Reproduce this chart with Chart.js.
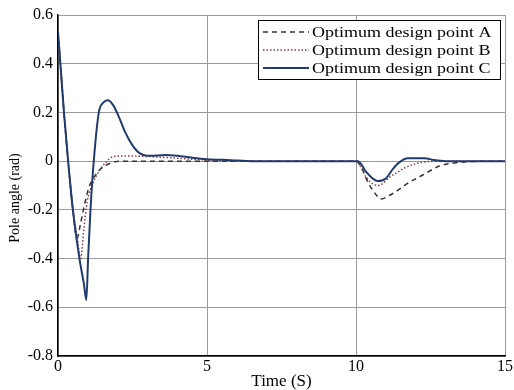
<!DOCTYPE html>
<html>
<head>
<meta charset="utf-8">
<script src="https://cdn.jsdelivr.net/npm/chart.js@4"></script>
<style>
    body { margin: 0; background: #fff; }
    canvas { display: block; }
</style>
</head>
<body>
<canvas id="poleChart" width="514" height="390"></canvas>
<script>
// Values
const seriesLabels = ['Optimum design point A', 'Optimum design point B', 'Optimum design point C'];

const timeA = [0, 0.08, 0.2, 0.34, 0.5, 0.64, 0.75, 0.87, 1.03, 1.26, 1.39, 1.56, 1.9, 2.3, 9.85, 10, 10.2, 10.34, 10.56, 10.85, 11.12, 11.4, 11.68, 12.24, 12.8, 13.4, 14, 15];
const poleA = [0.53, 0.40, 0.20, 0, -0.20, -0.317, -0.26, -0.19, -0.11, -0.056, -0.036, -0.02, -0.003, 0, 0, 0, -0.03, -0.071, -0.119, -0.155, -0.141, -0.12, -0.095, -0.057, -0.02, -0.006, -0.001, 0];

const timeB = [0, 0.08, 0.2, 0.34, 0.5, 0.64, 0.76, 0.87, 0.98, 1.15, 1.37, 1.62, 1.84, 2.2, 2.8, 3.5, 4.2, 5, 6, 9.85, 10, 10.34, 10.55, 10.72, 10.9, 11.12, 11.4, 11.68, 12.24, 12.8, 13.5, 15];
const poleB = [0.53, 0.40, 0.20, 0, -0.20, -0.31, -0.40, -0.275, -0.166, -0.097, -0.042, -0.003, 0.018, 0.021, 0.02, 0.016, 0.01, 0.004, 0, 0, 0, -0.066, -0.092, -0.1, -0.092, -0.066, -0.045, -0.025, -0.004, 0, 0, 0];

const timeC = [0, 0.08, 0.2, 0.34, 0.5, 0.72, 0.87, 0.95, 1.01, 1.09, 1.2, 1.37, 1.52, 1.67, 1.85, 2.05, 2.25, 2.5, 2.75, 3.1, 3.6, 4.0, 4.5, 5.0, 5.8, 6.5, 10, 10.07, 10.34, 10.56, 10.72, 11.0, 11.24, 11.45, 11.74, 12.3, 12.6, 13, 15];
const poleC = [0.53, 0.40, 0.20, 0, -0.20, -0.40, -0.505, -0.57, -0.40, -0.20, 0, 0.20, 0.24, 0.25, 0.23, 0.18, 0.12, 0.065, 0.032, 0.022, 0.025, 0.022, 0.014, 0.008, 0.004, 0, 0, 0, -0.044, -0.071, -0.082, -0.071, -0.032, -0.005, 0.012, 0.012, 0.005, 0, 0];

const xTicks = [0, 5, 10, 15];
const yTicks = [-0.8, -0.6, -0.4, -0.2, 0, 0.2, 0.4, 0.6];

const serif = '"Liberation Serif", "Times New Roman", serif';

function toPoints(times, values) {
    return times.map((t, i) => ({ x: t, y: values[i] }));
}

// Legend box drawn inside the plot, plus the rotated y title
const boxLegend = {
    id: 'boxLegend',
    afterDatasetsDraw(chart) {
        const ctx = chart.ctx;
        const x0 = 258, y0 = 20, w = 242, h = 59;
        ctx.save();
        ctx.fillStyle = '#fff';
        ctx.fillRect(x0, y0, w, h);
        ctx.strokeStyle = '#000';
        ctx.lineWidth = 1;
        ctx.strokeRect(x0 + 0.5, y0 + 0.5, w, h);

        chart.data.datasets.forEach((ds, i) => {
            const y = 32 + i * 18;
            ctx.beginPath();
            ctx.setLineDash(ds.borderDash || []);
            ctx.strokeStyle = ds.borderColor;
            ctx.lineWidth = ds.borderWidth;
            ctx.moveTo(263, y);
            ctx.lineTo(309, y);
            ctx.stroke();
            ctx.setLineDash([]);

            ctx.save();
            ctx.translate(312, y);
            ctx.scale(1.2, 1);
            ctx.fillStyle = '#000';
            ctx.font = '15px ' + serif;
            ctx.textBaseline = 'middle';
            ctx.fillText(ds.label, 0, 1);
            ctx.restore();
        });

        ctx.translate(15, 198);
        ctx.rotate(-Math.PI / 2);
        ctx.fillStyle = '#000';
        ctx.font = '14px ' + serif;
        ctx.textAlign = 'center';
        ctx.textBaseline = 'middle';
        ctx.fillText('Pole angle (rad)', 0, 0);
        ctx.restore();
    }
};

function renderChart() {
    const ctx = document.getElementById('poleChart').getContext('2d');
    new Chart(ctx, {
        type: 'line',
        data: {
            datasets: [{
                label: seriesLabels[0],
                data: toPoints(timeA, poleA),
                borderColor: '#333333',
                borderWidth: 1.5,
                borderDash: [5, 4],
                order: 2,
            }, {
                label: seriesLabels[1],
                data: toPoints(timeB, poleB),
                borderColor: '#8c3b3b',
                borderWidth: 1.5,
                borderDash: [1.5, 2],
                order: 1,
            }, {
                label: seriesLabels[2],
                data: toPoints(timeC, poleC),
                borderColor: '#233a6f',
                borderWidth: 2,
                order: 0,
            }],
        },
        options: {
            responsive: false,
            animation: false,
            elements: {
                point: { radius: 0 },
                line: { cubicInterpolationMode: 'monotone', fill: false },
            },
            layout: { padding: { top: 15, right: 9, bottom: 0, left: 0 } },
            plugins: {
                legend: { display: false },
                tooltip: { enabled: false },
            },
            scales: {
                x: {
                    type: 'linear',
                    min: 0,
                    max: 15,
                    afterBuildTicks: axis => { axis.ticks = xTicks.map(v => ({ value: v })); },
                    afterFit: axis => { axis.height = 34; },
                    ticks: { color: '#000', font: { family: serif, size: 16 }, padding: 1, maxRotation: 0 },
                    grid: { color: '#9a9a9a', drawTicks: false },
                    border: { color: '#000', width: 1.5 },
                    title: { display: true, text: 'Time (S)', color: '#000', font: { family: serif, size: 17, lineHeight: 1 }, padding: 0 },
                },
                y: {
                    min: -0.8,
                    max: 0.6,
                    afterBuildTicks: axis => { axis.ticks = yTicks.map(v => ({ value: v })); },
                    afterFit: axis => { axis.width = 58; },
                    ticks: {
                        color: '#000',
                        font: { family: serif, size: 16 },
                        padding: 5,
                        callback: v => Number(v.toFixed(1)).toString(),
                    },
                    grid: { color: '#9a9a9a', drawTicks: false },
                    border: { color: '#000', width: 1.5 },
                },
            },
        },
        plugins: [boxLegend],
    });
}

renderChart();
</script>
</body>
</html>
